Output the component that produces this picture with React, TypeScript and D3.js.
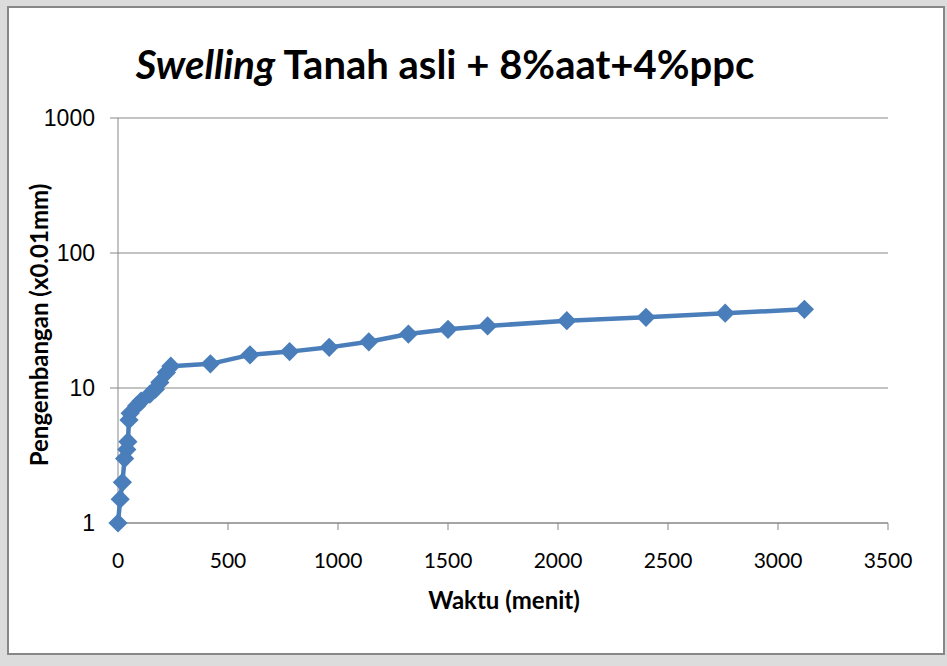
import * as d3 from "d3";

// Waktu (menit) and Pengembangan (x0.01mm)
const times = [0, 10, 20, 30, 40, 45, 50, 55, 85, 105, 145, 170, 190, 220, 240, 420, 600, 780, 960, 1140, 1320, 1500, 1680, 2040, 2400, 2760, 3120];
const swell = [1, 1.5, 2, 3, 3.5, 4, 5.8, 6.5, 7.4, 8, 9, 9.8, 11, 13, 14.5, 15.1, 17.6, 18.6, 20, 22, 25.1, 27.2, 28.8, 31.5, 33.4, 35.8, 38.3];
const xTicks = [0, 500, 1000, 1500, 2000, 2500, 3000, 3500];
const yTicks = [1, 10, 100, 1000];

const W = 947;
const H = 666;
const BLUE = "#4a7ebb";
const GRID = "#878787";
const FONT = "Lato, 'Open Sans', sans-serif";

export default function App() {
  const x = d3.scaleLinear().domain([0, 3500]).range([118, 888]);
  const y = d3.scaleLog().domain([1, 1000]).range([523, 118]);

  const pts = times.map((t, i) => ({ t, v: swell[i] }));
  const line = d3
    .line<{ t: number; v: number }>()
    .x((d) => x(d.t))
    .y((d) => y(d.v));
  const diamond = d3.symbol().type(d3.symbolSquare).size(185)() || "";

  return (
    <svg width={W} height={H} style={{ position: "absolute", left: 0, top: 0 }}>
      <rect x={0} y={0} width={W} height={H} fill="#dcdcdc" />
      <rect x={8} y={7} width={936} height={647} fill="#fff" stroke={GRID} strokeWidth={2} />

      {/* title */}
      <text x={445} y={79} textAnchor="middle" fontFamily={FONT} fontWeight="bold" fontSize={40} fill="#000">
        <tspan fontStyle="italic">Swelling</tspan>
        <tspan> Tanah asli + 8%aat+4%ppc</tspan>
      </text>

      {/* gridlines */}
      {yTicks.slice(1).map((v) => (
        <line key={v} x1={x(0)} x2={x(3500)} y1={y(v)} y2={y(v)} stroke={GRID} strokeWidth={1} />
      ))}
      {/* axes */}
      <line x1={x(0)} x2={x(0)} y1={y(1000)} y2={y(1)} stroke={GRID} strokeWidth={1} />
      <line x1={x(0)} x2={x(3500)} y1={y(1)} y2={y(1)} stroke={GRID} strokeWidth={1.5} />
      {yTicks.map((v) => (
        <g key={v}>
          <line x1={x(0) - 8} x2={x(0)} y1={y(v)} y2={y(v)} stroke={GRID} />
          <text x={95} y={y(v)} dy="0.36em" textAnchor="end" fontFamily="'Liberation Sans', Arial, sans-serif" fontSize={23} fill="#000">
            {v}
          </text>
        </g>
      ))}
      {xTicks.map((v) => (
        <g key={v}>
          <line x1={x(v)} x2={x(v)} y1={y(1)} y2={y(1) + 7} stroke={GRID} />
          <text x={x(v)} y={568} textAnchor="middle" fontFamily={FONT} fontSize={21} fill="#000">
            {v}
          </text>
        </g>
      ))}

      {/* axis titles */}
      <text x={504} y={609} textAnchor="middle" fontFamily={FONT} fontWeight="bold" fontSize={24} fill="#000">
        Waktu (menit)
      </text>
      <text
        transform="translate(48,325) rotate(-90)"
        textAnchor="middle"
        fontFamily={FONT}
        fontWeight="bold"
        fontSize={24}
        fill="#000"
      >
        Pengembangan (x0.01mm)
      </text>

      {/* series */}
      <path d={line(pts) || ""} fill="none" stroke={BLUE} strokeWidth={4.5} strokeLinejoin="round" />
      {pts.map((d, i) => (
        <path key={i} d={diamond} transform={`translate(${x(d.t)},${y(d.v)}) rotate(45)`} fill={BLUE} />
      ))}
    </svg>
  );
}
